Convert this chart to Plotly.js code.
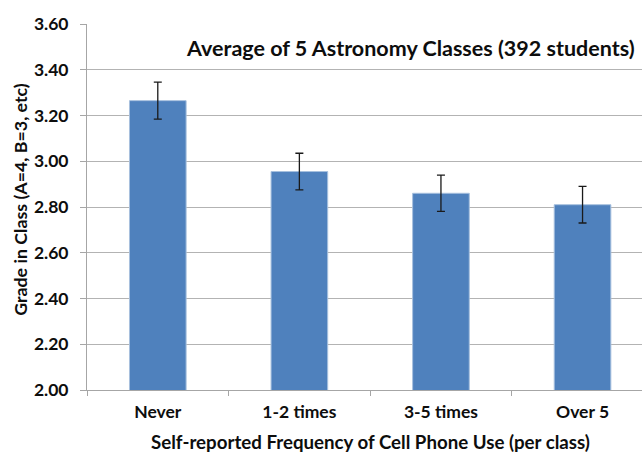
<!DOCTYPE html>
<html><head><meta charset="utf-8">
<script src="https://cdn.plot.ly/plotly-3.0.1.min.js"></script>
<style>body{margin:0;padding:0;background:#fff}#chart{width:642px;height:453px}</style>
</head><body><div id="chart"></div>
<script>
const categories = ["Never", "1-2 times", "3-5 times", "Over 5"];
const grades = [3.265, 2.955, 2.86, 2.81];
const errors = [0.081, 0.080, 0.079, 0.080];
const yTicks = [2.0, 2.2, 2.4, 2.6, 2.8, 3.0, 3.2, 3.4, 3.6];
const yTickLabels = ["2.00","2.20","2.40","2.60","2.80","3.00","3.20","3.40","3.60"];
const chartTitle = "Average of 5 Astronomy Classes (392 students)";
const xTitle = "Self-reported Frequency of Cell Phone Use (per class)";
const yTitle = "Grade in Class (A=4, B=3, etc)";

const FONT = "Lato, 'Open Sans', sans-serif";
const TXT = "#0d0d0d";

const trace = {
  type: "bar",
  x: categories,
  y: grades,
  width: 0.40,
  marker: {color: "#4F81BD", line: {color: "#A7C0DE", width: 1}},
  error_y: {type: "data", array: errors, visible: true, color: "#1a1a1a", thickness: 1.3, width: 4},
  hoverinfo: "none"
};

const layout = {
  width: 642, height: 453,
  margin: {l: 87, r: 0, t: 24, b: 63, pad: 0},
  paper_bgcolor: "#fff", plot_bgcolor: "#fff",
  showlegend: false,
  font: {family: FONT, color: TXT},
  xaxis: {
    type: "category",
    range: [-0.5, 3.42],
    showgrid: false,
    showline: true, linecolor: "#A6A6A6", linewidth: 1,
    ticks: "outside", tickson: "boundaries", ticklen: 5, tickcolor: "#A6A6A6",
    tickfont: {family: FONT, size: 17.5, color: TXT, weight: "bold"},
    ticklabelstandoff: 6,
    fixedrange: true
  },
  yaxis: {
    range: [2.0, 3.6],
    tickvals: yTicks, ticktext: yTickLabels,
    showgrid: true, gridcolor: "#B3B3B3", gridwidth: 1,
    showline: true, linecolor: "#A6A6A6", linewidth: 1,
    ticks: "outside", ticklen: 6, tickcolor: "#A6A6A6",
    tickfont: {family: FONT, size: 17.5, color: TXT, weight: "bold"},
    ticklabelstandoff: 8,
    zeroline: false,
    fixedrange: true
  },
  annotations: [
    {text: "<b>" + chartTitle + "</b>", xref: "paper", yref: "paper", x: 0.582, y: 0.934,
     xanchor: "center", yanchor: "middle", showarrow: false,
     font: {family: FONT, size: 21.5, color: TXT}},
    {text: "<b>" + xTitle + "</b>", xref: "x", yref: "paper", x: 1.5, y: -0.142,
     xanchor: "center", yanchor: "middle", showarrow: false,
     font: {family: FONT, size: 18.7, color: TXT}},
    {text: "<b>" + yTitle + "</b>", xref: "paper", yref: "paper", x: -0.121, y: 0.522,
     xanchor: "center", yanchor: "middle", showarrow: false, textangle: -90,
     font: {family: FONT, size: 17.8, color: TXT}}
  ]
};

Plotly.newPlot("chart", [trace], layout, {displayModeBar: false, staticPlot: true});
</script></body></html>
